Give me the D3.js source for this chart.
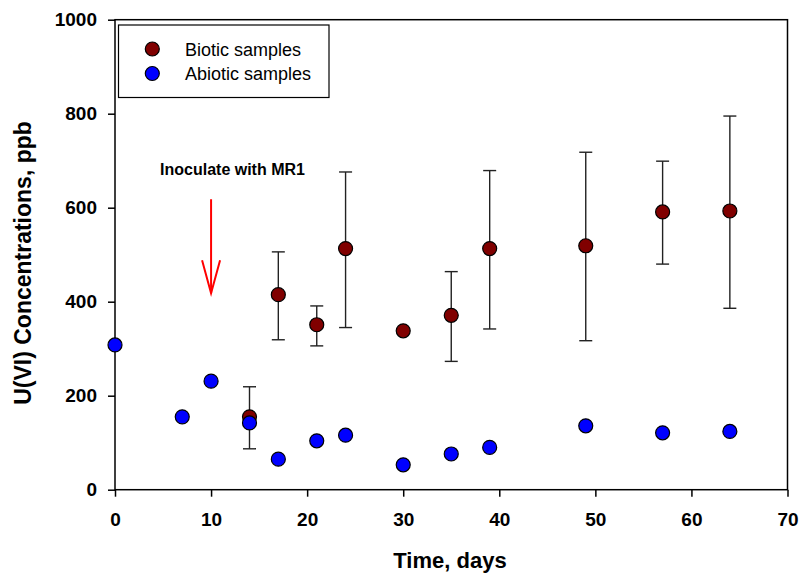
<!DOCTYPE html>
<html>
<head>
<meta charset="utf-8">
<script src="https://cdn.jsdelivr.net/npm/d3@7"></script>
<style>
  body { margin: 0; background: #fff; }
  text { font-family: Arial, "Liberation Sans", sans-serif; }
</style>
</head>
<body>
<div id="chart"></div>
<script>
// Biotic samples (mean with error bars)
const bioticDays = [14, 17, 21, 24, 30, 35, 39, 49, 57, 64];
const bioticMean = [155, 415, 351, 513, 338, 371, 513, 519, 591, 593];
const bioticHigh = [219, 506, 391, 676, 338, 464, 679, 718, 699, 795];
const bioticLow = [87, 319, 306, 345, 338, 273, 342, 317, 480, 386];

// Abiotic samples
const abioticDays = [0, 7, 10, 14, 17, 21, 24, 30, 35, 39, 49, 57, 64];
const abioticValues = [308, 155, 231, 142, 65, 104, 116, 53, 76, 90, 136, 121, 124];

const xTicks = [0, 10, 20, 30, 40, 50, 60, 70];
const yTicks = [0, 200, 400, 600, 800, 1000];

// Annotation arrow (day, from, to)
const arrowDay = 10;
const arrowFrom = 618;
const arrowTo = 418;

const width = 801;
const height = 573;

const svg = d3
  .select("#chart")
  .append("svg")
  .attr("width", width)
  .attr("height", height);

const x = d3.scaleLinear().domain([0, 70]).range([115, 787.5]);
const y = d3.scaleLinear().domain([0, 1000]).range([489.7, 19.7]);

// frame
svg
  .append("rect")
  .attr("x", x(0))
  .attr("y", y(1000))
  .attr("width", x(70) - x(0))
  .attr("height", y(0) - y(1000))
  .attr("fill", "none")
  .attr("stroke", "#000")
  .attr("stroke-width", 1.5);

// x axis
const xAxis = svg
  .append("g")
  .attr("transform", "translate(0," + y(0) + ")")
  .call(d3.axisBottom(x).tickValues(xTicks).tickSize(7).tickSizeOuter(0).tickPadding(16));
xAxis.select(".domain").remove();
xAxis.selectAll("line").attr("stroke", "#000").attr("stroke-width", 1.5);
xAxis
  .selectAll("text")
  .style("font-size", "19px")
  .style("font-weight", "bold")
  .attr("fill", "#000");

// y axis
const yAxis = svg
  .append("g")
  .attr("transform", "translate(" + x(0) + ",0)")
  .call(
    d3.axisLeft(y).tickValues(yTicks).tickFormat(d3.format("d")).tickSize(7).tickSizeOuter(0).tickPadding(11)
  );
yAxis.select(".domain").remove();
yAxis.selectAll("line").attr("stroke", "#000").attr("stroke-width", 1.5);
yAxis
  .selectAll("text")
  .style("font-size", "19px")
  .style("font-weight", "bold")
  .attr("fill", "#000");

// axis titles
svg
  .append("text")
  .attr("x", 450)
  .attr("y", 568)
  .attr("text-anchor", "middle")
  .style("font-size", "22px")
  .style("font-weight", "bold")
  .text("Time, days");

svg
  .append("text")
  .attr("transform", "translate(31,263) rotate(-90)")
  .attr("text-anchor", "middle")
  .style("font-size", "23px")
  .style("font-weight", "bold")
  .text("U(VI) Concentrations, ppb");

// build biotic rows
const biotic = bioticDays.map((d, i) => ({
  day: d,
  mean: bioticMean[i],
  hi: bioticHigh[i],
  lo: bioticLow[i],
}));
const abiotic = abioticDays.map((d, i) => ({ day: d, value: abioticValues[i] }));

// error bars
const bars = svg
  .append("g")
  .attr("stroke", "#222")
  .attr("stroke-width", 1.4)
  .selectAll("g")
  .data(biotic.filter((d) => d.hi !== d.lo))
  .join("g");

bars
  .append("line")
  .attr("x1", (d) => x(d.day))
  .attr("x2", (d) => x(d.day))
  .attr("y1", (d) => y(d.hi))
  .attr("y2", (d) => y(d.lo));
bars
  .append("line")
  .attr("x1", (d) => x(d.day) - 6.5)
  .attr("x2", (d) => x(d.day) + 6.5)
  .attr("y1", (d) => y(d.hi))
  .attr("y2", (d) => y(d.hi));
bars
  .append("line")
  .attr("x1", (d) => x(d.day) - 6.5)
  .attr("x2", (d) => x(d.day) + 6.5)
  .attr("y1", (d) => y(d.lo))
  .attr("y2", (d) => y(d.lo));

// markers
svg
  .append("g")
  .selectAll("circle")
  .data(biotic)
  .join("circle")
  .attr("cx", (d) => x(d.day))
  .attr("cy", (d) => y(d.mean))
  .attr("r", 7)
  .attr("fill", "#800000")
  .attr("stroke", "#000")
  .attr("stroke-width", 1.2);

svg
  .append("g")
  .selectAll("circle")
  .data(abiotic)
  .join("circle")
  .attr("cx", (d) => x(d.day))
  .attr("cy", (d) => y(d.value))
  .attr("r", 7)
  .attr("fill", "#0000ff")
  .attr("stroke", "#000")
  .attr("stroke-width", 1.2);

// annotation arrow
const ax = x(arrowDay);
svg
  .append("line")
  .attr("x1", ax)
  .attr("x2", ax)
  .attr("y1", y(arrowFrom))
  .attr("y2", y(arrowTo))
  .attr("stroke", "red")
  .attr("stroke-width", 2);
svg
  .append("path")
  .attr("d", "M" + (ax - 9) + "," + (y(arrowTo) - 33) + "L" + ax + "," + y(arrowTo) + "L" + (ax + 9) + "," + (y(arrowTo) - 33))
  .attr("fill", "none")
  .attr("stroke", "red")
  .attr("stroke-width", 2);

svg
  .append("text")
  .attr("x", 232.5)
  .attr("y", 175)
  .attr("text-anchor", "middle")
  .style("font-size", "16px")
  .style("font-weight", "bold")
  .text("Inoculate with MR1");

// legend
const legend = svg.append("g");
legend
  .append("rect")
  .attr("x", 118.5)
  .attr("y", 25)
  .attr("width", 210.5)
  .attr("height", 72.5)
  .attr("fill", "#fff")
  .attr("stroke", "#000")
  .attr("stroke-width", 1.2);

const legendItems = [
  { label: "Biotic samples", color: "#800000" },
  { label: "Abiotic samples", color: "#0000ff" },
];
legendItems.forEach((item, i) => {
  legend
    .append("circle")
    .attr("cx", 152.3)
    .attr("cy", 49 + i * 24.5)
    .attr("r", 7)
    .attr("fill", item.color)
    .attr("stroke", "#000")
    .attr("stroke-width", 1.2);
  legend
    .append("text")
    .attr("x", 185)
    .attr("y", 55.5 + i * 24.5)
    .style("font-size", "18px")
    .text(item.label);
});
</script>
</body>
</html>
